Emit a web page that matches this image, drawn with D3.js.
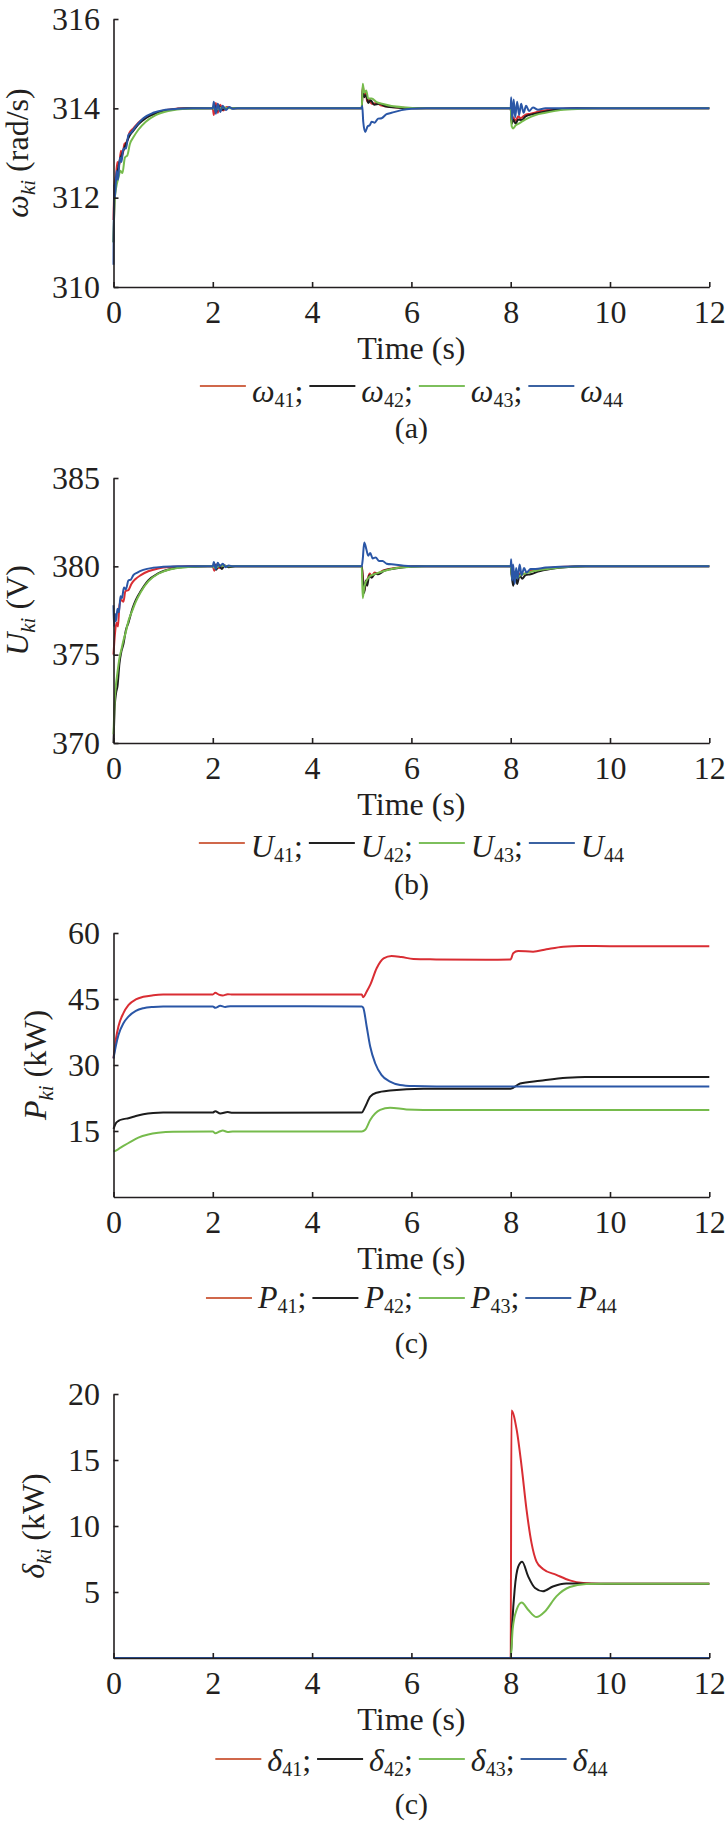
<!DOCTYPE html>
<html>
<head>
<meta charset="utf-8">
<script src="https://cdn.jsdelivr.net/npm/d3@7"></script>
<style>
  html, body { margin: 0; padding: 0; background: #fff; }
  svg { display: block; }
  svg text { font-family: "Liberation Serif", "Times New Roman", Times, "DejaVu Serif", serif; fill: #231f20; }
</style>
</head>
<body>
<svg id="chart" width="727" height="1822"></svg>
<script>
// ---------------- DATA ----------------
const xTicks = [0, 2, 4, 6, 8, 10, 12];
const omegaTicks = [310, 312, 314, 316];
const uTicks = [370, 375, 380, 385];
const pTicks = [15, 30, 45, 60];
const deltaTicks = [5, 10, 15, 20];
const seriesIds = ["41", "42", "43", "44"];
const captions = ["(a)", "(b)", "(c)", "(c)"];

// Panel (a): omega_ki (rad/s) — [time s, value]
const omega41 = [[0,311.5],[0.02,312.3],[0.05,312.5],[0.08,312.8],[0.11,312.7],[0.15,313.05],[0.18,312.95],[0.22,313.2],[0.27,313.25],[0.32,313.45],[0.4,313.55],[0.5,313.68],[0.65,313.8],[0.85,313.9],[1.1,313.97],[1.5,314],[2,314],[2.02,313.85],[2.06,314.12],[2.1,313.9],[2.15,314.08],[2.21,313.95],[2.28,314.03],[2.4,314],[5,314],[5.02,314.5],[5.05,314.3],[5.08,314.35],[5.11,314.15],[5.15,314.2],[5.2,314.1],[5.3,314.12],[5.4,314.06],[5.6,314.03],[5.9,314.01],[6.3,314],[8,314],[8.02,313.7],[8.05,313.8],[8.1,313.72],[8.15,313.82],[8.2,313.78],[8.3,313.86],[8.4,313.88],[8.6,313.94],[8.9,313.98],[9.3,314],[12,314]];
const omega42 = [[0,311.0],[0.03,312.2],[0.07,312.5],[0.12,312.8],[0.18,313.0],[0.25,313.2],[0.32,313.38],[0.4,313.5],[0.5,313.64],[0.65,313.78],[0.85,313.89],[1.1,313.96],[1.5,314],[2,314],[2.03,314.08],[2.07,313.93],[2.12,314.05],[2.18,313.97],[2.3,314.01],[2.4,314],[5,314],[5.02,314.45],[5.05,314.25],[5.09,314.3],[5.13,314.12],[5.18,314.18],[5.25,314.08],[5.35,314.1],[5.5,314.04],[5.8,314.01],[6.2,314],[8,314],[8.02,313.65],[8.05,313.75],[8.1,313.66],[8.15,313.75],[8.22,313.74],[8.3,313.82],[8.45,313.87],[8.7,313.93],[9.0,313.98],[9.4,314],[12,314]];
const omega43 = [[0,311.0],[0.02,311.9],[0.05,312.2],[0.1,312.45],[0.14,312.6],[0.18,312.55],[0.23,312.9],[0.28,312.95],[0.33,313.2],[0.4,313.35],[0.5,313.52],[0.65,313.7],[0.85,313.85],[1.1,313.94],[1.5,313.99],[2,314],[2.05,313.97],[2.2,314.02],[2.4,314],[5,314],[5.02,314.55],[5.05,314.35],[5.09,314.4],[5.13,314.22],[5.2,314.22],[5.3,314.14],[5.45,314.09],[5.6,314.05],[5.9,314.02],[6.3,314],[8,314],[8.02,313.6],[8.05,313.55],[8.1,313.62],[8.15,313.65],[8.25,313.72],[8.35,313.78],[8.5,313.85],[8.7,313.9],[9.0,313.96],[9.4,313.99],[9.8,314],[12,314]];
const omega44 = [[0,310.5],[0.01,312.3],[0.03,312.0],[0.06,312.6],[0.09,312.4],[0.13,312.9],[0.16,312.8],[0.2,313.1],[0.25,313.1],[0.3,313.4],[0.35,313.45],[0.45,313.6],[0.6,313.78],[0.8,313.9],[1.0,313.96],[1.3,313.99],[1.6,314.0],[2.0,314.0],[2.02,314.15],[2.06,313.88],[2.1,314.1],[2.15,313.92],[2.2,314.06],[2.26,313.96],[2.33,314.03],[2.4,313.99],[2.5,314.0],[5.0,314.0],[5.01,314.05],[5.03,313.7],[5.07,313.47],[5.12,313.6],[5.16,313.62],[5.2,313.7],[5.26,313.68],[5.33,313.77],[5.4,313.78],[5.5,313.87],[5.6,313.9],[5.8,313.96],[6.0,313.99],[6.3,314],[8.0,314.0],[8.01,314.25],[8.03,313.75],[8.06,314.2],[8.09,313.8],[8.13,314.15],[8.17,313.85],[8.21,314.1],[8.26,313.9],[8.31,314.06],[8.37,313.94],[8.45,314.02],[8.55,313.97],[8.7,314.0],[12,314]];

// Panel (b): U_ki (V)
const u41 = [[0,375.0],[0.03,376.2],[0.06,376.8],[0.09,376.6],[0.12,377.8],[0.16,378.1],[0.2,378.0],[0.24,378.6],[0.3,378.65],[0.36,379.0],[0.45,379.3],[0.55,379.5],[0.7,379.72],[0.9,379.88],[1.2,379.97],[1.5,380],[2,380],[2.03,379.75],[2.07,380.1],[2.12,379.9],[2.2,380.05],[2.3,380],[5,380],[5.02,379.5],[5.05,378.6],[5.08,379.0],[5.12,379.3],[5.16,379.6],[5.2,379.45],[5.26,379.65],[5.32,379.6],[5.42,379.75],[5.55,379.85],[5.75,379.94],[6.1,380],[8,380],[8.03,379.4],[8.07,379.7],[8.12,379.3],[8.18,379.6],[8.25,379.55],[8.35,379.7],[8.5,379.8],[8.75,379.9],[9.1,379.97],[9.5,380],[12,380]];
const u42 = [[0,370.0],[0.02,371.8],[0.05,372.8],[0.08,373.2],[0.12,374.5],[0.16,375.2],[0.2,375.6],[0.25,376.4],[0.3,376.8],[0.38,377.6],[0.45,378.1],[0.55,378.6],[0.7,379.2],[0.9,379.6],[1.15,379.85],[1.5,379.97],[1.9,380],[2,380],[2.03,380.15],[2.07,379.8],[2.12,380.1],[2.18,379.85],[2.24,380.05],[2.32,379.95],[2.45,380],[5,380],[5.02,379.3],[5.05,378.5],[5.08,379.2],[5.11,378.9],[5.15,379.5],[5.2,379.35],[5.27,379.6],[5.33,379.55],[5.45,379.75],[5.6,379.85],[5.8,379.94],[6.2,380],[8,380],[8.02,379.5],[8.05,378.9],[8.09,379.6],[8.13,379.0],[8.18,379.5],[8.23,379.3],[8.3,379.5],[8.4,379.55],[8.55,379.7],[8.8,379.85],[9.1,379.95],[9.5,380],[12,380]];
const u43 = [[0,370.5],[0.02,372.2],[0.05,373.3],[0.08,374.0],[0.12,374.8],[0.16,375.3],[0.2,375.8],[0.25,376.3],[0.3,376.9],[0.38,377.5],[0.45,378.0],[0.55,378.55],[0.7,379.15],[0.9,379.58],[1.15,379.84],[1.5,379.96],[1.9,380],[2,380],[2.05,379.9],[2.15,380.05],[2.3,380],[5,380],[5.02,378.2],[5.05,378.8],[5.08,379.1],[5.12,379.3],[5.17,379.45],[5.25,379.55],[5.35,379.65],[5.5,379.78],[5.7,379.9],[6.0,379.97],[6.3,380],[8,380],[8.03,379.3],[8.07,379.5],[8.12,379.35],[8.2,379.5],[8.3,379.6],[8.45,379.72],[8.65,379.82],[8.9,379.9],[9.2,379.97],[9.6,380],[12,380]];
const u44 = [[0,377.8],[0.01,376.6],[0.03,377.3],[0.05,376.9],[0.08,377.6],[0.11,377.4],[0.14,378.3],[0.17,378.2],[0.21,378.8],[0.25,378.7],[0.3,379.2],[0.35,379.25],[0.4,379.5],[0.48,379.65],[0.6,379.8],[0.8,379.92],[1.0,379.97],[1.3,380],[2,380],[2.02,380.25],[2.06,379.85],[2.1,380.2],[2.14,380.0],[2.2,380.15],[2.26,379.95],[2.32,380.05],[2.4,380],[5,380],[5.02,380.4],[5.05,381.35],[5.09,381.0],[5.13,380.6],[5.17,380.75],[5.22,380.45],[5.28,380.5],[5.35,380.3],[5.42,380.3],[5.5,380.15],[5.65,380.1],[5.85,380.04],[6.1,380],[8,380],[8.01,380.4],[8.03,379.2],[8.05,380.1],[8.08,379.0],[8.11,379.9],[8.14,379.3],[8.18,380.1],[8.22,379.5],[8.27,379.9],[8.32,379.65],[8.4,379.85],[8.5,379.85],[8.7,379.93],[9.0,379.98],[9.4,380],[12,380]];

// Panel (c): P_ki (kW)
const p41 = [[0,31.5],[0.05,36],[0.1,38.8],[0.2,41.8],[0.3,43.6],[0.45,44.9],[0.6,45.5],[0.8,45.85],[1.0,46.0],[1.5,46.05],[2.0,46.05],[2.05,46.4],[2.12,46.0],[2.2,45.8],[2.3,46.1],[2.4,46.0],[5.0,46.0],[5.03,45.4],[5.1,46.7],[5.17,48.2],[5.3,52.0],[5.44,54.25],[5.6,54.8],[5.8,54.55],[6.04,54.1],[6.5,54.0],[7.5,53.9],[8.0,54.0],[8.05,55.4],[8.15,55.9],[8.45,55.75],[8.72,56.3],[9.06,56.9],[9.4,57.05],[10,57.0],[12,57.0]];
const p42 = [[0,15.5],[0.05,16.8],[0.1,17.3],[0.2,17.7],[0.3,17.9],[0.45,18.4],[0.6,18.8],[0.8,19.1],[1.0,19.2],[2.0,19.2],[2.05,19.5],[2.15,19.0],[2.3,19.3],[2.4,19.15],[5.0,19.2],[5.07,20.5],[5.17,22.8],[5.3,23.7],[5.57,24.2],[6.24,24.6],[8.0,24.6],[8.19,25.8],[8.59,26.4],[9.13,27.1],[9.5,27.3],[12,27.3]];
const p43 = [[0,10.3],[0.1,10.9],[0.2,11.6],[0.35,12.6],[0.5,13.5],[0.7,14.2],[0.9,14.6],[1.2,14.85],[2.0,14.9],[2.05,14.5],[2.15,14.95],[2.2,15.1],[2.3,14.8],[2.4,14.9],[5.0,14.9],[5.07,15.3],[5.17,17.5],[5.37,19.8],[5.57,20.3],[5.9,19.9],[6.24,19.8],[12,19.8]];
const p44 = [[0,31.5],[0.05,34.5],[0.1,36.8],[0.2,39.5],[0.3,41.0],[0.45,42.3],[0.6,42.9],[0.8,43.2],[1.0,43.3],[2.0,43.3],[2.05,43.0],[2.15,43.45],[2.25,43.2],[2.35,43.35],[5.0,43.3],[5.03,43.0],[5.1,38.7],[5.17,34.2],[5.27,30.4],[5.4,27.7],[5.57,26.2],[5.77,25.45],[6.04,25.2],[6.5,25.1],[12,25.1]];

// Panel (d): delta_ki (kW)
const d41 = [[0,0],[8.0,0],[8.015,18.75],[8.12,17.3],[8.22,14.5],[8.32,11.2],[8.42,8.7],[8.52,7.3],[8.65,6.75],[8.92,6.3],[9.19,5.88],[9.46,5.68],[9.8,5.62],[12,5.62]];
const d42 = [[0,0],[8.0,0],[8.03,2.5],[8.08,5.2],[8.15,6.9],[8.23,7.3],[8.35,6.2],[8.49,5.3],[8.65,5.05],[8.85,5.42],[9.12,5.65],[9.5,5.63],[12,5.63]];
const d43 = [[0,0],[8.0,0],[8.04,2.2],[8.12,3.66],[8.22,4.2],[8.35,3.66],[8.52,3.1],[8.69,3.53],[8.92,4.67],[9.19,5.38],[9.52,5.6],[9.9,5.63],[12,5.63]];
const d44 = [[0,0],[12,0]];

// ---------------- STYLE / LAYOUT ----------------
const FONT = "'Liberation Serif', 'Times New Roman', Times, 'DejaVu Serif', serif";
const lineColors = ["#d92d33", "#1c1c1c", "#76bb4c", "#2a56a6"];
const legendColors = ["#d0684b", "#222222", "#7dbf5c", "#3b62a2"];
const X0 = 113.5, X1 = 709.3;

const panels = [
  { sym: "ω", unit: " (rad/s)", domain: [310, 316], ticks: omegaTicks, top: 19, bottom: 287,
    series: [omega41, omega42, omega43, omega44], labelX: 28,
    off: { tick: 13, time: 72, legend: 115, lineDy: -16, cap: 151 } },
  { sym: "U", unit: " (V)", domain: [370, 385], ticks: uTicks, top: 478, bottom: 743,
    series: [u41, u42, u43, u44], labelX: 28,
    off: { tick: 13, time: 72, legend: 114, lineDy: -14, cap: 151 } },
  { sym: "P", unit: " (kW)", domain: [0, 60], ticks: pTicks, top: 933, bottom: 1197,
    series: [p41, p42, p43, p44], labelX: 46,
    off: { tick: 13, time: 72, legend: 111, lineDy: -10, cap: 156 } },
  { sym: "δ", unit: " (kW)", domain: [0, 20], ticks: deltaTicks, top: 1394, bottom: 1658,
    series: [d41, d42, d43, d44], labelX: 44,
    off: { tick: 13, time: 72, legend: 113, lineDy: -12, cap: 156 } }
];

const svg = d3.select("#chart");
const x = d3.scaleLinear().domain([0, 12]).range([X0, X1]);

panels.forEach((p, pi) => {
  const y = d3.scaleLinear().domain(p.domain).range([p.bottom, p.top]);
  const g = svg.append("g");

  // lines
  const line = d3.line().x(d => x(d[0])).y(d => y(d[1])).curve(d3.curveMonotoneX);
  p.series.forEach((s, i) => {
    g.append("path").datum(s)
      .attr("d", line)
      .attr("fill", "none")
      .attr("stroke", lineColors[i])
      .attr("stroke-width", 2)
      .attr("stroke-linejoin", "round");
  });

  // axes
  const fmt = d3.format("d");
  const xAxis = d3.axisBottom(x).tickValues(xTicks).tickFormat(fmt).tickSize(-5).tickSizeOuter(0).tickPadding(p.off.tick);
  const yAxis = d3.axisLeft(y).tickValues(p.ticks).tickFormat(fmt).tickSize(-5).tickSizeOuter(0).tickPadding(13.5);
  const gx = g.append("g").attr("transform", `translate(0,${p.bottom})`).call(xAxis);
  const gy = g.append("g").attr("transform", `translate(${X0},0)`).call(yAxis);
  [gx, gy].forEach(a => {
    a.attr("font-family", FONT).attr("font-size", 32);
    a.selectAll("path, line").attr("stroke", "#231f20").attr("stroke-width", 1.6);
    a.selectAll("text").style("font-family", FONT).style("font-size", "32px").attr("fill", "#231f20");
  });

  // y label
  const yl = g.append("text")
    .attr("transform", `translate(${p.labelX},${(p.top + p.bottom) / 2}) rotate(-90)`)
    .attr("text-anchor", "middle")
    .style("font-family", FONT)
    .style("font-size", "32px");
  yl.append("tspan").text(p.sym).style("font-style", "italic");
  yl.append("tspan").text("ki").style("font-style", "italic").style("font-size", "21px").attr("dy", 7);
  yl.append("tspan").text(p.unit).attr("dy", -7);

  // x title
  g.append("text").attr("x", (X0 + X1) / 2).attr("y", p.bottom + p.off.time)
    .attr("text-anchor", "middle").style("font-family", FONT).style("font-size", "32px").text("Time (s)");

  // legend
  const lg = g.append("g");
  let cx = 0;
  seriesIds.forEach((id, i) => {
    lg.append("line").attr("x1", cx).attr("x2", cx + 46)
      .attr("y1", p.off.lineDy).attr("y2", p.off.lineDy)
      .attr("stroke", legendColors[i]).attr("stroke-width", 2);
    cx += 52;
    const t = lg.append("text").attr("x", cx).attr("y", 0)
      .style("font-family", FONT).style("font-size", "32px");
    t.append("tspan").text(p.sym).style("font-style", "italic");
    t.append("tspan").text(id).style("font-size", "20px").attr("dy", 5);
    if (i < 3) t.append("tspan").text(";").attr("dy", -5);
    cx += t.node().getComputedTextLength() + 6;
  });
  const lw = cx - 6;
  lg.attr("transform", `translate(${(X0 + X1) / 2 - lw / 2},${p.bottom + p.off.legend})`);

  // caption
  g.append("text").attr("x", (X0 + X1) / 2).attr("y", p.bottom + p.off.cap)
    .attr("text-anchor", "middle").style("font-family", FONT).style("font-size", "30px").text(captions[pi]);
});
</script>
</body>
</html>
